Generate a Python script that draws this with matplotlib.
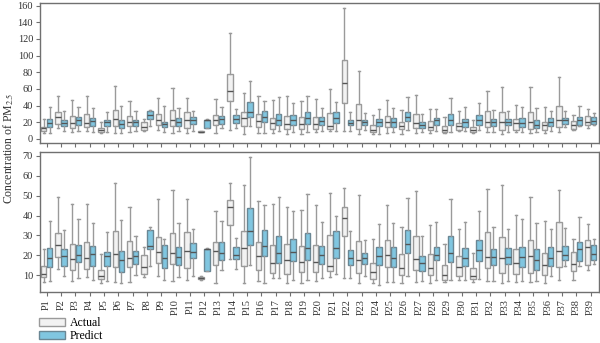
import numpy as np
import matplotlib
matplotlib.use('Agg')
import matplotlib.pyplot as plt
from matplotlib.patches import Patch

plt.rcParams['font.family'] = ['Liberation Serif', 'DejaVu Serif']
plt.rcParams['mathtext.fontset'] = 'stix'

labels = ['P%d' % i for i in range(1, 40)]

# top panel, actual
top_act_lo = [7.2, 13.6, 8, 10, 7.2, 7.2, 8, 10, 10.4, 7.2, 7.2, 7.8, 7.2, 11.2, 6.4, 7.2, 7.2, 6.4, 6.4, 8, 9.2, 9.2, 6.4, 6.4, 7.2, 6.4, 7.2, 7.2, 7.2, 10, 7.2, 8.4, 6.4, 8, 7.2, 7.2, 8.4, 11.2, 13.2]
top_act_q1 = [10, 18.4, 13.6, 14.4, 8.4, 15.2, 15.2, 11.2, 16.8, 16, 13.6, 8.0, 17.2, 45, 15.2, 14, 11.6, 12, 12, 12, 12.4, 43, 12, 8.4, 14, 12, 13.2, 11.2, 8.4, 11.2, 8.4, 14, 11.2, 11.2, 12.4, 11.2, 14.4, 12.4, 16.4]
top_act_med = [12.8, 26, 19.2, 19.2, 10.4, 24, 20, 14, 22.3, 22.3, 23, 8.6, 23, 57.9, 24.7, 22, 19.2, 18.4, 18.4, 18, 16, 66.6, 22.3, 11.2, 20.4, 15.2, 19.2, 14.8, 10.4, 15.2, 10.4, 20.4, 20, 19.2, 20.4, 17.2, 23, 17.2, 20]
top_act_q3 = [14, 32.7, 27, 30, 12.8, 35, 28, 20, 29.5, 34.7, 32.3, 9.4, 29, 77.8, 32.3, 30, 25.5, 27.5, 26.7, 26.7, 31.5, 94.6, 42.3, 16.4, 28, 20.7, 30.3, 21, 15.2, 19.2, 14.4, 34, 32, 24, 32.3, 20.7, 39.9, 21, 27]
top_act_hi = [24, 51, 47, 51, 20, 63.8, 45.5, 24.3, 49, 61, 48.7, 9.6, 48.3, 127, 55, 51.5, 46.7, 51, 45.9, 48.3, 60, 156.8, 81, 28.7, 46.3, 35, 53, 36, 26.3, 34, 22.3, 57.9, 62.6, 40.7, 62.6, 38.3, 74.6, 28.3, 36.3]

# top panel, predict
top_pre_lo = [7.2, 10, 9.2, 8, 8, 7.2, 10, 16, 8.4, 9.2, 10, 13.2, 13.2, 13.2, 15.2, 7.2, 9.2, 8, 8, 10, 10, 10, 10.4, 5.6, 8, 10.4, 8, 10, 8, 9.2, 10.4, 8, 8.4, 8, 8, 10, 14.4, 15.2, 17]
top_pre_q1 = [14.4, 15.2, 17.2, 15.2, 16, 13.6, 16, 24, 14.4, 16, 18.4, 13.6, 18.4, 19, 26, 20, 16.4, 17.2, 18.4, 16.4, 19, 16.4, 16.4, 16, 14.4, 22, 13.2, 16.4, 16.4, 14.4, 16.8, 16, 16.4, 14, 13.2, 15.2, 18, 16.4, 18]
top_pre_med = [19.2, 19.6, 22.3, 21, 20, 18.4, 20, 29, 18.4, 20.7, 22.3, 22.5, 24.3, 24.3, 32, 26, 22.3, 22.3, 24.7, 22, 24.7, 19.6, 20.4, 20.7, 20, 26.3, 17.2, 22.3, 22.3, 20, 23, 20.4, 20.4, 19.2, 17.2, 20, 22.3, 22.3, 21.2]
top_pre_q3 = [24, 22.3, 26.3, 25, 22.3, 22.7, 22.3, 33, 20.7, 24.7, 26.3, 23, 28, 29, 44.3, 33, 30.3, 29, 32.3, 26.3, 32.3, 22.3, 22.3, 24.3, 24.7, 32.3, 20, 24.7, 30, 24, 28.3, 24.3, 24.3, 25, 23, 24.7, 25, 26.3, 26]
top_pre_hi = [38, 33, 38.7, 37, 32.7, 40, 33, 34.3, 39, 37, 34, 23.5, 38.3, 36, 69.4, 45.5, 49.9, 43, 51, 37, 44.3, 32.3, 31, 36.3, 37, 49.9, 30.3, 36, 49, 38.3, 43, 35, 34, 38.3, 37, 34, 34, 40, 31]

# bottom panel, actual
bot_act_lo = [6.5, 13.2, 7.2, 9.2, 6.2, 6.5, 6.7, 9.0, 9.5, 7.0, 7.5, 7.8, 6.2, 18.3, 6.2, 7.0, 8.5, 6.2, 6.2, 7.0, 9.0, 8.7, 6.2, 6.2, 6.5, 6.2, 6.5, 6.2, 6.5, 7.8, 6.5, 7.3, 6.2, 6.5, 6.5, 6.2, 7.5, 7.8, 12.5]
bot_act_q1 = [9.0, 19.2, 12.5, 13.3, 8.2, 14.0, 14.3, 10.7, 16.0, 15.7, 13.7, 8.0, 15.3, 35.0, 14.7, 12.8, 11.2, 10.7, 11.5, 11.5, 12.0, 29.7, 11.2, 8.2, 14.3, 10.0, 12.8, 10.3, 7.8, 9.8, 8.2, 13.7, 11.2, 10.7, 11.3, 10.2, 14.0, 12.0, 15.2]
bot_act_med = [10.7, 25.2, 18.2, 18.5, 9.8, 20.5, 18.7, 14.0, 21.7, 21.0, 22.3, 8.6, 22.2, 44.3, 23.8, 19.5, 16.0, 17.5, 16.7, 16.7, 14.8, 38.7, 17.5, 11.5, 20.0, 13.8, 18.3, 13.8, 10.3, 14.2, 9.5, 19.0, 18.8, 16.2, 19.5, 15.0, 22.2, 15.8, 24.2]
bot_act_q3 = [14.7, 31.2, 25.7, 26.7, 12.7, 32.0, 27.0, 20.2, 29.0, 31.3, 31.5, 9.3, 26.5, 47.7, 32.3, 26.5, 25.2, 25.5, 24.5, 25.0, 30.2, 44.5, 27.2, 16.2, 27.7, 20.8, 29.5, 20.7, 15.0, 19.5, 13.7, 31.8, 29.2, 23.3, 27.5, 21.2, 36.7, 21.5, 27.7]
bot_act_hi = [23.2, 49.5, 45.7, 45.7, 20.7, 56.5, 44.5, 24.0, 48.2, 52.7, 48.2, 9.5, 42.5, 56.2, 55.2, 47.2, 45.8, 44.2, 42.8, 45.2, 51.5, 54.0, 50.3, 28.2, 45.5, 34.2, 52.3, 35.2, 25.8, 33.2, 21.3, 53.2, 55.2, 40.3, 49.2, 37.5, 52.7, 28.2, 35.7]

# bottom panel, predict
bot_pre_lo = [7.2, 9.8, 8.8, 7.8, 7.2, 6.2, 10.3, 14.8, 7.5, 9.2, 9.5, 12.3, 12.5, 13.3, 15.0, 6.2, 8.7, 7.8, 7.8, 8.7, 10.7, 8.7, 9.5, 5.3, 6.8, 9.8, 7.2, 7.8, 7.8, 7.8, 8.2, 7.0, 7.0, 7.0, 7.0, 9.5, 14.5, 14.8, 15.8]
bot_pre_q1 = [14.3, 14.7, 16.7, 14.8, 14.8, 11.7, 15.5, 23.3, 13.8, 15.3, 18.7, 12.3, 17.8, 18.2, 25.2, 19.5, 16.0, 17.0, 17.8, 15.5, 18.8, 15.0, 15.8, 15.3, 14.3, 21.2, 12.3, 17.5, 16.5, 14.8, 17.2, 15.0, 15.8, 14.0, 12.8, 14.8, 17.5, 17.0, 17.8]
bot_pre_med = [18.7, 19.5, 20.0, 20.7, 19.5, 17.7, 19.7, 24.8, 18.7, 19.2, 21.7, 23.0, 21.2, 20.3, 32.0, 24.7, 21.2, 21.7, 23.8, 20.0, 23.8, 18.8, 18.7, 19.5, 18.5, 25.8, 16.2, 20.0, 21.2, 18.8, 22.7, 19.3, 19.3, 19.3, 17.5, 18.7, 20.2, 23.3, 20.7]
bot_pre_q3 = [23.7, 23.2, 25.2, 24.5, 21.7, 22.3, 22.3, 32.8, 25.3, 24.0, 26.2, 23.3, 26.5, 24.2, 43.7, 32.8, 29.5, 28.3, 31.3, 24.5, 32.0, 22.7, 21.2, 24.2, 24.0, 32.5, 19.7, 24.0, 29.7, 23.7, 27.8, 23.3, 23.7, 24.3, 23.2, 24.2, 24.5, 26.7, 25.2]
bot_pre_hi = [37.2, 32.7, 38.2, 36.2, 31.8, 37.8, 29.8, 34.0, 28.2, 36.3, 33.2, 23.5, 37.3, 28.7, 69.2, 45.5, 49.5, 42.5, 50.7, 36.5, 39.7, 32.2, 27.8, 35.7, 36.3, 48.7, 29.5, 37.0, 48.5, 37.0, 42.3, 34.2, 33.2, 38.3, 36.2, 33.2, 33.5, 39.5, 28.3]

act_face = '#f2f2f2'
act_edge = '#9a9a9a'
pre_face = '#80c6e0'
pre_edge = '#6a8794'
spine_col = '#707070'


def make_stats(lo, q1, med, q3, hi):
    return [dict(whislo=a, q1=b, med=c, q3=d, whishi=e, fliers=[])
            for a, b, c, d, e in zip(lo, q1, med, q3, hi)]


def draw_panel(ax, act, pre):
    pos = np.arange(1, len(labels) + 1)
    for stats, off, face, edge in [(act, -0.21, act_face, act_edge),
                                    (pre, 0.21, pre_face, pre_edge)]:
        ax.bxp(stats, positions=pos + off, widths=0.38, patch_artist=True,
               showfliers=False,
               boxprops=dict(facecolor=face, edgecolor=edge, linewidth=1.0),
               medianprops=dict(color='#555555', linewidth=1.0),
               whiskerprops=dict(color='#9a9a9a', linewidth=1.0),
               capprops=dict(color='#9a9a9a', linewidth=1.0),
               capwidths=0.16)
    ax.set_xlim(0.53, 39.58)
    ax.set_xticks(pos)
    for sp in ax.spines.values():
        sp.set_color(spine_col)
        sp.set_linewidth(1.0)
    ax.tick_params(axis='both', colors='#333333', labelsize=7.5, length=3,
                   width=0.8, pad=2)
    ax.tick_params(axis='both', color=spine_col)


fig = plt.figure(figsize=(6.0, 3.43), dpi=100)
ax1 = fig.add_axes([40 / 600, 1 - 143 / 343, 559 / 600, 140 / 343])
ax2 = fig.add_axes([40 / 600, 1 - 292 / 343, 559 / 600, 140 / 343])

draw_panel(ax1, make_stats(top_act_lo, top_act_q1, top_act_med, top_act_q3, top_act_hi),
           make_stats(top_pre_lo, top_pre_q1, top_pre_med, top_pre_q3, top_pre_hi))
ax1.set_ylim(-4.8, 163)
ax1.set_yticks(np.arange(0, 161, 20))
ax1.set_xticklabels([])

draw_panel(ax2, make_stats(bot_act_lo, bot_act_q1, bot_act_med, bot_act_q3, bot_act_hi),
           make_stats(bot_pre_lo, bot_pre_q1, bot_pre_med, bot_pre_q3, bot_pre_hi))
ax2.set_ylim(1.6, 71.9)
ax2.set_yticks(np.arange(10, 71, 10))
ax2.set_xticklabels(labels, rotation=90)

fig.text(9 / 600, 1 - 148 / 343, 'Concentration of PM$_{2.5}$', rotation=90,
         ha='center', va='center', fontsize=8.5, color='#333333')

handles = [Patch(facecolor=act_face, edgecolor=act_edge, label='Actual'),
           Patch(facecolor=pre_face, edgecolor=pre_edge, label='Predict')]
fig.legend(handles=handles, loc='lower left', bbox_to_anchor=(34 / 600, -0.012),
           frameon=False, fontsize=8.5, handlelength=2.2, handleheight=0.6,
           handletextpad=0.4, labelspacing=0.12, borderaxespad=0.0)

fig.savefig('out.png', dpi=100)
